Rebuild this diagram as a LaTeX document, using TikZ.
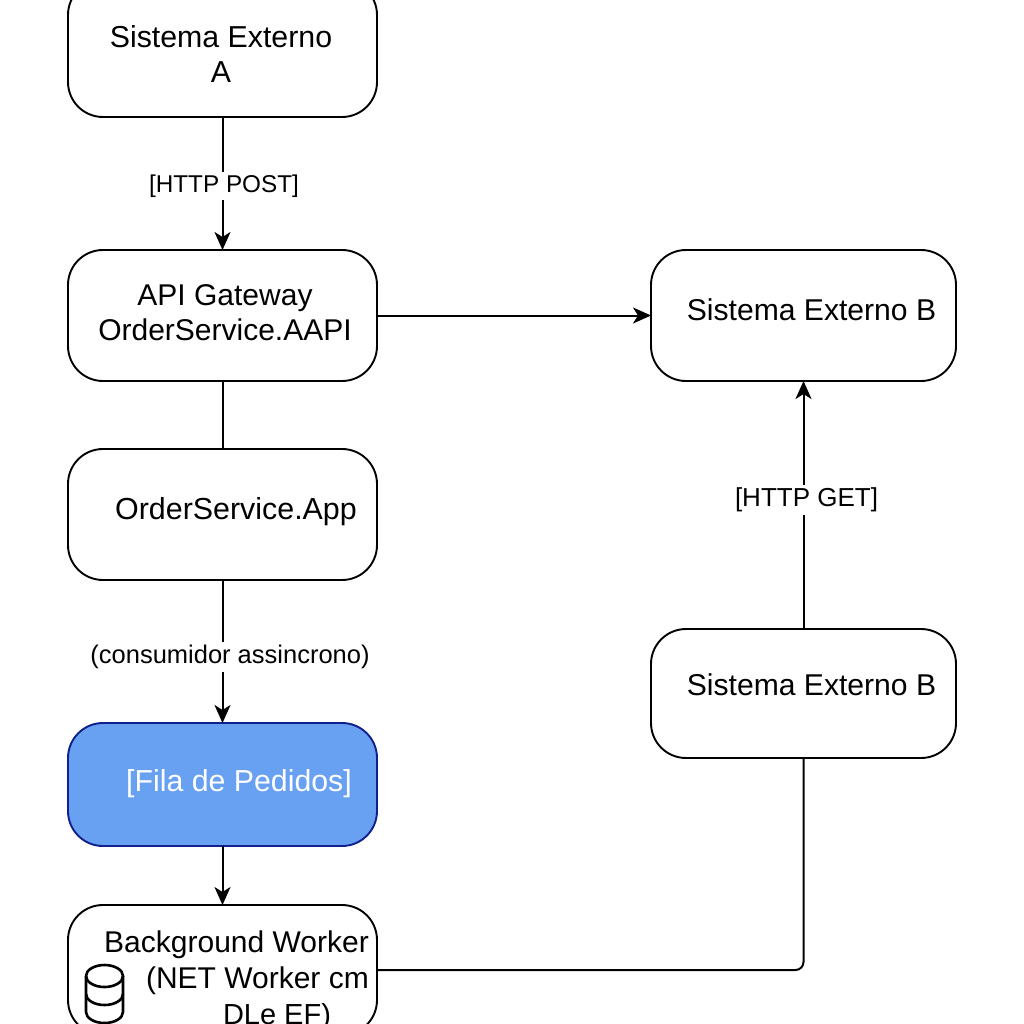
\documentclass[tikz,border=0pt]{standalone}
\usepackage{fontspec}
\setmainfont{Liberation Sans}
\usetikzlibrary{arrows.meta}
\definecolor{fillblue}{RGB}{104,160,242}
\definecolor{edgeblue}{RGB}{16,32,140}
\tikzset{
  boxnode/.style={draw=black,line width=1.9pt,rounded corners=35pt,fill=white,inner sep=0pt,outer sep=0pt,anchor=north west},
  bluebox/.style={boxnode,draw=edgeblue,fill=fillblue},
  txt/.style={font=\fontsize{30.3}{35}\selectfont,align=center,inner sep=0pt,anchor=center},
  lbl/.style={font=\fontsize{24.3}{28}\selectfont,fill=white,inner sep=3pt,anchor=center},
  conn/.style={line width=2pt,draw=black},
  arr/.style={conn,-{Stealth[length=18pt,width=16pt,inset=5pt]}}
}
\begin{document}
\begin{tikzpicture}[x=1pt,y=-1pt]
\useasboundingbox (0,0) rectangle (1024,1024);
\clip (0,0) rectangle (1024,1024);
\fill[white] (0,0) rectangle (1024,1024);
% boxes
\node[boxnode,minimum width=309pt,minimum height=137pt] (a) at (68,-20) {};
\node[boxnode,minimum width=309pt,minimum height=131pt] (api) at (68,250) {};
\node[boxnode,minimum width=309pt,minimum height=131pt] (app) at (68,449) {};
\node[bluebox,minimum width=309pt,minimum height=123pt] (fila) at (68,723) {};
\node[boxnode,minimum width=309pt,minimum height=130pt] (worker) at (68,905) {};
\node[boxnode,minimum width=305pt,minimum height=131pt] (b1) at (651,250) {};
\node[boxnode,minimum width=305pt,minimum height=129pt] (b2) at (651,629) {};
% box texts
\node[txt] (ta) at (221,54) {Sistema Externo\\A};
\node[txt,font=\fontsize{30}{35}\selectfont] (tapi) at (225,313) {API Gateway\\OrderService.AAPI};
\node[txt,font=\fontsize{30.4}{35}\selectfont] (tapp) at (236,512) {OrderService.App};
\node[txt,text=white] (tfila) at (239,784) {[Fila de Pedidos]};
\node[txt,font=\fontsize{30}{36}\selectfont,anchor=north east,align=right] (tw1) at (369,931) {Background Worker\\(NET Worker cm};
\node[txt,font=\fontsize{29}{36}\selectfont] (tw2) at (277,1017) {DLe EF)};
\node[txt,font=\fontsize{30.1}{35}\selectfont] (tb1) at (811.5,310) {Sistema Externo B};
\node[txt,font=\fontsize{30.1}{35}\selectfont] (tb2) at (811.5,685) {Sistema Externo B};
% connectors
\draw[arr] (a.south) -- (api.north);
\draw[arr] (api.east) -- (b1.west);
\draw[conn] (api.south) -- (app.north);
\draw[arr] (app.south) -- (fila.north);
\draw[arr] (fila.south) -- (worker.north);
\draw[arr] (b2.north) -- (b1.south);
\draw[conn,rounded corners=8pt] (worker.east) -| (b2.south);
% edge labels
\node[lbl] (l1) at (224,186) {[HTTP POST]};
\node[lbl,font=\fontsize{25.5}{28}\selectfont] (l2) at (230,657) {(consumidor assincrono)};
\node[lbl,font=\fontsize{26}{28}\selectfont] (l3) at (806.5,500) {[HTTP GET]};
% database icon
\begin{scope}[line width=2.6pt,draw=black]
\draw (86,976) arc[start angle=180,end angle=-180,x radius=18.5,y radius=11];
\draw (86,976) -- (86,1012) arc[start angle=180,end angle=0,x radius=18.5,y radius=11] -- (123,976);
\draw (86,994) arc[start angle=180,end angle=0,x radius=18.5,y radius=11];
\end{scope}
\end{tikzpicture}
\end{document}
